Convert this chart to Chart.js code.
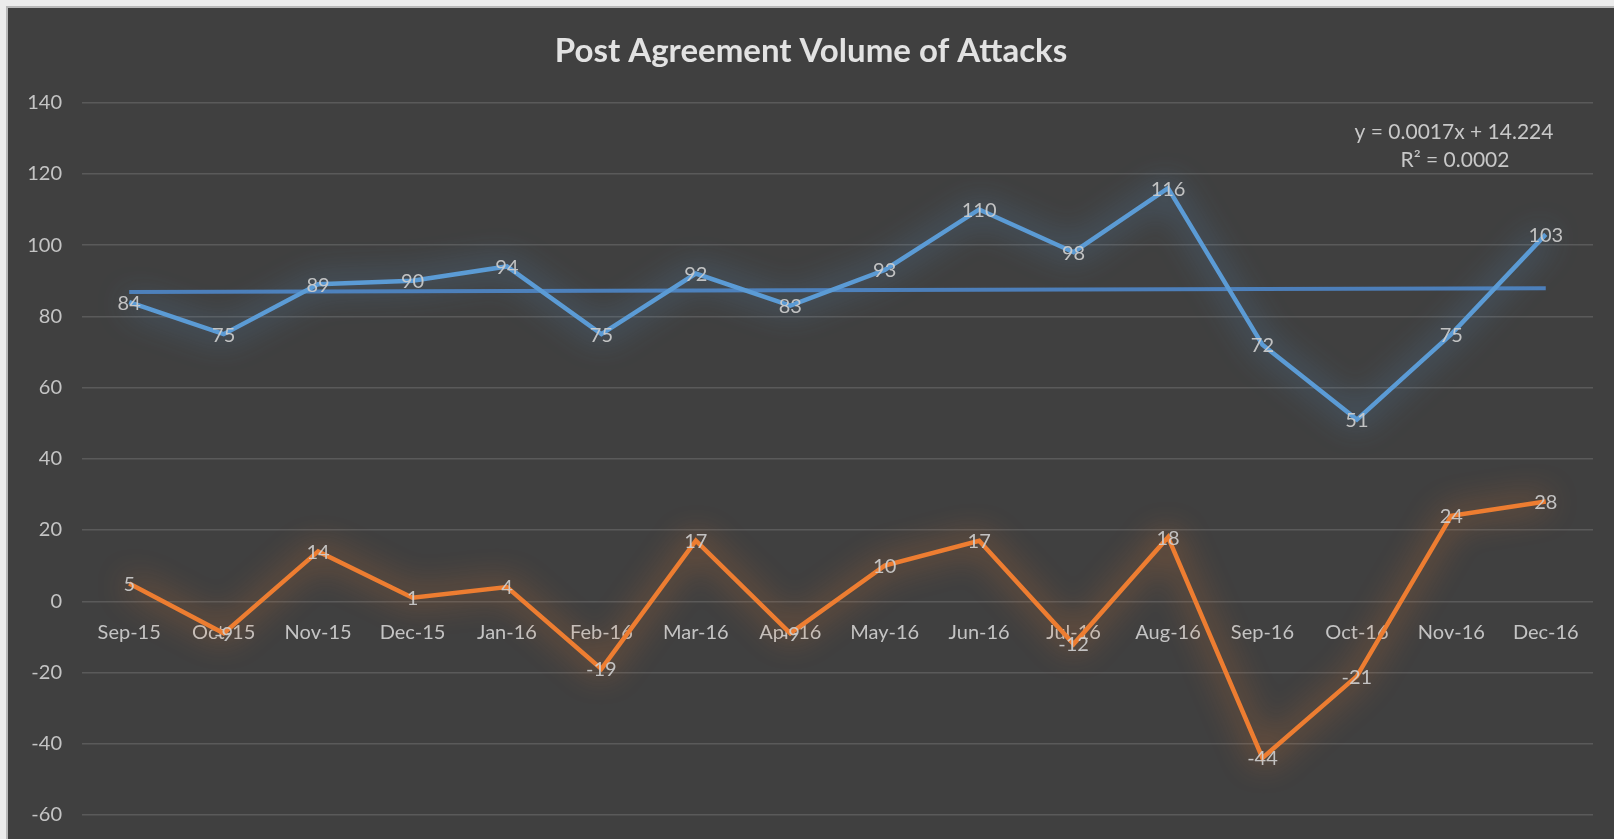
<!DOCTYPE html>
<html>
<head>
<meta charset="utf-8">
<script src="https://cdn.jsdelivr.net/npm/chart.js@4.4.1/dist/chart.umd.min.js"></script>
<style>
  html, body { margin: 0; padding: 0; background: #ececec; }
  #frame { position: absolute; left: 6px; top: 6px; width: 1608px; height: 833px; background: #b8b8b8; }
  #wrap { position: absolute; left: 8px; top: 8px; width: 1606px; height: 831px; background: #404040; }
</style>
</head>
<body>
<div id="frame"></div>
<div id="wrap"><canvas id="c"></canvas></div>
<script>
const months = ['Sep-15','Oct-15','Nov-15','Dec-15','Jan-16','Feb-16','Mar-16','Apr-16','May-16','Jun-16','Jul-16','Aug-16','Sep-16','Oct-16','Nov-16','Dec-16'];
const attacks = [84,75,89,90,94,75,92,83,93,110,98,116,72,51,75,103];
const monthlyChange = [5,-9,14,1,4,-19,17,-9,10,17,-12,18,-44,-21,24,28];
const trendEnds = [86.8,null,null,null,null,null,null,null,null,null,null,null,null,null,null,87.9];
const trendText = ['y = 0.0017x + 14.224', 'R\u00B2 = 0.0002'];
const yMin = -60, yMax = 140, yStep = 20;
const chartTitle = 'Post Agreement Volume of Attacks';

const glowPlugin = {
  id: 'glow',
  beforeDatasetDraw(chart, args) {
    const ds = chart.data.datasets[args.index];
    if (ds.glow) {
      chart.ctx.save();
      chart.ctx.shadowColor = ds.glow;
      chart.ctx.shadowBlur = 32;
    }
  },
  afterDatasetDraw(chart, args) {
    const ds = chart.data.datasets[args.index];
    if (ds.glow) chart.ctx.restore();
  }
};

const labelPlugin = {
  id: 'valueLabels',
  afterDatasetsDraw(chart) {
    const ctx = chart.ctx;
    ctx.save();
    ctx.font = '20px Lato';
    ctx.fillStyle = 'rgba(205,205,205,0.92)';
    ctx.textAlign = 'center';
    ctx.textBaseline = 'middle';
    chart.data.datasets.forEach((ds, di) => {
      if (!ds.showValues) return;
      const meta = chart.getDatasetMeta(di);
      meta.data.forEach((pt, i) => {
        ctx.fillText(String(ds.data[i]), pt.x, pt.y + 1);
      });
    });
    const a = chart.chartArea;
    ctx.font = '21px Lato';
    ctx.fillStyle = '#c8c8c8';
    ctx.fillText(trendText[0], a.right - 139, 124);
    ctx.fillText(trendText[1], a.right - 138, 152);
    ctx.restore();
  }
};

new Chart(document.getElementById('c'), {
  type: 'line',
  data: {
    labels: months,
    datasets: [
      {
        label: 'Linear trend',
        data: trendEnds,
        spanGaps: true,
        borderColor: '#4d7fba',
        borderWidth: 4,
        pointRadius: 0,
        tension: 0,
        order: 3
      },
      {
        label: 'Attacks',
        data: attacks,
        borderColor: '#5b9bd5',
        borderWidth: 4.5,
        pointRadius: 0,
        tension: 0,
        glow: 'rgba(91,155,213,1)',
        showValues: true,
        order: 2
      },
      {
        label: 'Change',
        data: monthlyChange,
        borderColor: '#ed7d31',
        borderWidth: 4.5,
        pointRadius: 0,
        tension: 0,
        glow: 'rgba(237,125,49,1)',
        showValues: true,
        order: 1
      }
    ]
  },
  options: {
    responsive: true,
    maintainAspectRatio: false,
    animation: false,
    layout: { padding: { left: 0, right: 0, top: 0, bottom: 24 } },
    plugins: {
      legend: { display: false },
      tooltip: { enabled: false },
      title: {
        display: true,
        text: chartTitle,
        color: '#e2e2e2',
        font: { family: 'Lato', size: 33, weight: 'bold' },
        padding: { top: 24, bottom: 31 }
      }
    },
    scales: {
      x: {
        position: { y: 0 },
        offset: true,
        afterFit: s => { s.height = 0; },
        grid: { display: false, drawTicks: false },
        border: { display: false },
        ticks: { color: '#c4c4c4', font: { family: 'Lato', size: 20 }, padding: 19, maxRotation: 0, autoSkip: false }
      },
      y: {
        min: yMin,
        max: yMax,
        afterFit: s => { s.width = 74; s.paddingTop = 0; s.paddingBottom = 0; },
        grid: { color: '#5a5a5a', lineWidth: 1.5, drawTicks: false },
        border: { display: false },
        ticks: { stepSize: yStep, color: '#c4c4c4', font: { family: 'Lato', size: 20 }, padding: 20 }
      },
      yRightSpace: {
        position: 'right',
        min: yMin,
        max: yMax,
        afterFit: s => { s.width = 21; s.paddingTop = 0; s.paddingBottom = 0; },
        grid: { display: false, drawTicks: false },
        border: { display: false },
        ticks: { display: false }
      }
    }
  },
  plugins: [glowPlugin, labelPlugin]
});
</script>
</body>
</html>
